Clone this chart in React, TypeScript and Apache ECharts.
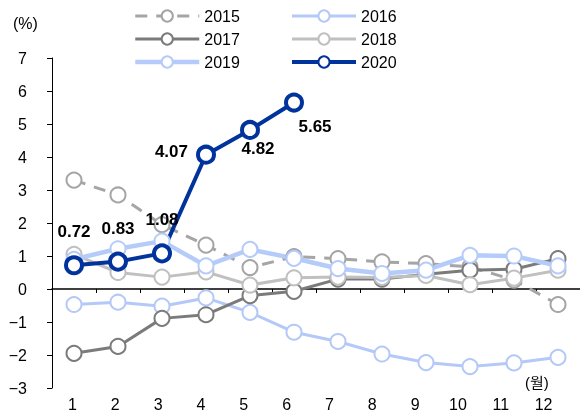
import React, { useEffect, useRef } from "react";
import * as echarts from "echarts";

const months = ["1", "2", "3", "4", "5", "6", "7", "8", "9", "10", "11", "12"];
const y2015 = [3.3, 2.85, 1.95, 1.33, 0.65, 0.98, 0.92, 0.82, 0.77, 0.67, 0.27, -0.47];
const y2016 = [-0.47, -0.4, -0.52, -0.27, -0.71, -1.31, -1.59, -1.97, -2.23, -2.35, -2.24, -2.07];
const y2017 = [-1.95, -1.74, -0.89, -0.78, -0.2, -0.07, 0.3, 0.3, 0.45, 0.57, 0.6, 0.92];
const y2018 = [1.05, 0.5, 0.36, 0.52, 0.12, 0.34, 0.36, 0.35, 0.41, 0.13, 0.33, 0.57];
const y2019 = [0.9, 1.22, 1.45, 0.7, 1.2, 0.93, 0.62, 0.47, 0.57, 1.02, 1.0, 0.7];
const y2020 = [0.72, 0.83, 1.08, 4.07, 4.82, 5.65];
const yTicks = { min: -3, max: 7, interval: 1 };

const FONT = "'Liberation Sans Narrow', 'Arial Narrow', 'Liberation Sans', 'Noto Sans CJK KR', sans-serif";

export default function App() {
  const ref = useRef<HTMLDivElement>(null);
  useEffect(() => {
    if (!ref.current) return;
    const chart = echarts.init(ref.current, null, { renderer: "svg" });

    const labelCfg: any[] = [
      { position: "top", distance: 15 },
      { position: "top", distance: 15 },
      { position: "top", distance: 15 },
      { position: "left", distance: 8, offset: [0, -3] },
      { position: "bottom", distance: 0, offset: [8, 0] },
      { position: "bottom", distance: 5, offset: [21, 0] },
    ];

    const mk = (name: string, data: any[], color: string, width: number, dashed = false, symSize = 15, border = 2) => ({
      name,
      type: "line",
      xAxisIndex: 0,
      yAxisIndex: 0,
      data,
      symbol: "circle",
      symbolSize: symSize,
      lineStyle: { color, width, type: dashed ? [12, 9] : "solid" },
      itemStyle: { color: "#ffffff", borderColor: color, borderWidth: border },
      emphasis: { disabled: true },
    });

    const s2020: any = mk(
      "2020",
      y2020.map((v, i) => ({ value: v, label: labelCfg[i] })),
      "#00339c",
      4,
      false,
      16,
      4
    );
    s2020.label = {
      show: true,
      fontFamily: FONT,
      fontSize: 17,
      fontWeight: "bold",
      color: "#000",
      formatter: (p: any) => Number(p.value).toFixed(2),
    };

    const legendBase = {
      orient: "vertical",
      top: 8,
      padding: 0,
      itemWidth: 64,
      itemHeight: 14,
      itemGap: 7,
      lineStyle: { width: "inherit" },
      textStyle: { fontFamily: FONT, fontSize: 16, color: "#000" },
    };

    chart.setOption({
      animation: false,
      legend: [
        { ...legendBase, left: 133, data: ["2015", "2017", "2019"] },
        { ...legendBase, left: 290, data: ["2016", "2018", "2020"] },
      ],
      grid: [
        { left: 52, right: 0, top: 58, bottom: 24, outerBoundsMode: "none", containLabel: false },
        { left: 51, width: 514, top: 58, bottom: 24, outerBoundsMode: "none", containLabel: false },
      ],
      xAxis: [
        {
          gridIndex: 0,
          type: "category",
          data: months,
          boundaryGap: true,
          axisLine: { onZero: true, lineStyle: { color: "#000", width: 1.5 } },
          axisTick: { show: true, length: 4, lineStyle: { color: "#000" } },
          axisLabel: { show: false },
          splitLine: { show: false },
        },
        {
          gridIndex: 1,
          type: "category",
          data: months,
          position: "bottom",
          boundaryGap: true,
          axisLine: { show: false, onZero: false },
          axisTick: { show: false },
          axisLabel: { margin: 8, fontFamily: FONT, fontSize: 16, color: "#000" },
          splitLine: { show: false },
        },
      ],
      yAxis: [
        {
          gridIndex: 0,
          type: "value",
          min: yTicks.min,
          max: yTicks.max,
          interval: yTicks.interval,
          axisLine: { show: true, lineStyle: { color: "#000", width: 1 } },
          axisTick: { show: true, length: 5, lineStyle: { color: "#000" } },
          axisLabel: {
            margin: 25,
            fontFamily: FONT,
            fontSize: 16,
            color: "#000",
            formatter: (v: number) => String(v).replace("-", "\u2212"),
          },
          splitLine: { show: false },
        },
        {
          gridIndex: 1,
          type: "value",
          min: yTicks.min,
          max: yTicks.max,
          interval: yTicks.interval,
          show: false,
        },
      ],
      graphic: [
        {
          type: "text",
          left: 13,
          top: 15,
          style: { text: "(%)", font: `16px ${FONT}`, fill: "#000" },
        },
        {
          type: "text",
          left: 525,
          top: 375,
          style: { text: "(월)", font: `15px ${FONT}`, fill: "#000" },
        },
      ],
      series: [
        mk("2015", y2015, "#a5a5a5", 3, true),
        mk("2016", y2016, "#b4c9f7", 3),
        mk("2017", y2017, "#7b7b7b", 3),
        mk("2018", y2018, "#c0c0c0", 3),
        mk("2019", y2019, "#b5cbfa", 4.5),
        s2020,
      ],
    });
    return () => chart.dispose();
  }, []);
  return <div ref={ref} style={{ position: "fixed", left: 0, top: 0, width: 580, height: 412 }} />;
}
